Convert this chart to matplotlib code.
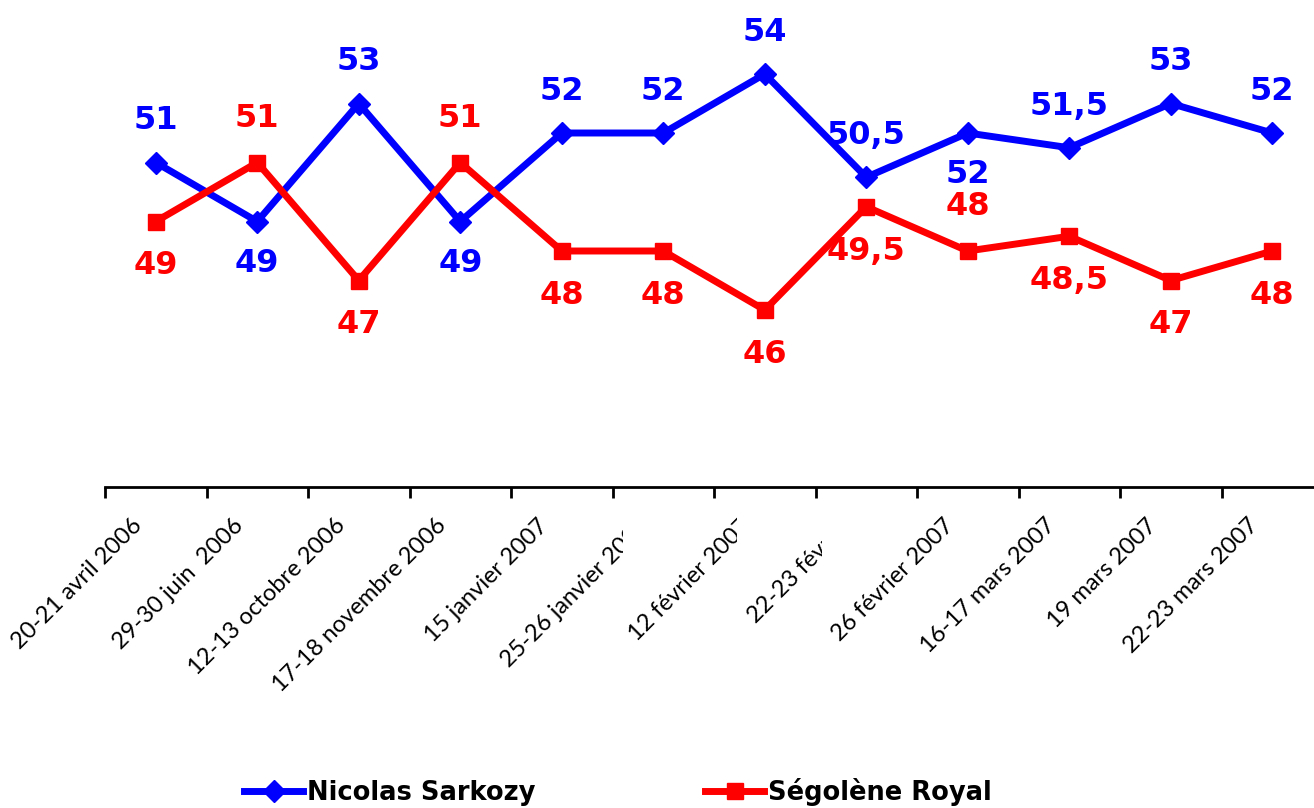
import numpy as np
import matplotlib
matplotlib.use('Agg')
import matplotlib.pyplot as plt
from matplotlib.transforms import Bbox

# ----- data
dates = ['20-21 avril 2006', '29-30 juin  2006', '12-13 octobre 2006',
         '17-18 novembre 2006', '15 janvier 2007', '25-26 janvier 2007',
         '12 février 2007', '22-23 février', '26 février 2007',
         '16-17 mars 2007', '19 mars 2007', '22-23 mars 2007']
sarkozy = [51, 49, 53, 49, 52, 52, 54, 50.5, 52, 51.5, 53, 52]
royal = [49, 51, 47, 51, 48, 48, 46, 49.5, 48, 48.5, 47, 48]
# label placement: +1 above the point, -1 below
sarkozy_side = [1, -1, 1, -1, 1, 1, 1, 1, -1, 1, 1, 1]
royal_side = [-1, 1, -1, 1, -1, -1, -1, -1, 1, -1, -1, -1]
# some date labels are cut off in the original (x limit, category units)
clip_at = {5: 4.606, 6: 5.73, 7: 6.56}

BLUE = '#0000FF'
RED = '#FF0000'

def fmt(v):
    return ('%g' % v).replace('.', ',')

fig = plt.figure(figsize=(13.14, 8.08), dpi=100)
ax = fig.add_axes([105/1314, (808-487)/808, (1323-105)/1314, 472/808])

x = np.arange(len(dates))
ax.plot(x, sarkozy, '-', color=BLUE, lw=5, marker='D', ms=11,
        label='Nicolas Sarkozy', solid_joinstyle='miter')
ax.plot(x, royal, '-', color=RED, lw=5, marker='s', ms=12,
        label='Ségolène Royal', solid_joinstyle='miter')

for i in x:
    ax.annotate(fmt(sarkozy[i]), (i, sarkozy[i]), xytext=(0, 30*sarkozy_side[i]),
                textcoords='offset points', ha='center', va='center',
                fontsize=23, fontweight='bold', color=BLUE)
    ax.annotate(fmt(royal[i]), (i, royal[i]), xytext=(0, 32*royal_side[i]),
                textcoords='offset points', ha='center', va='center',
                fontsize=23, fontweight='bold', color=RED)

ax.set_xlim(-0.5, len(dates) - 0.5)
ax.set_ylim(40, 56)

for s in ['top', 'right', 'left']:
    ax.spines[s].set_visible(False)
ax.spines['bottom'].set_linewidth(2)
ax.set_yticks([])
ax.set_xticks(np.arange(-0.5, len(dates), 1))
ax.set_xticklabels([])
ax.tick_params(axis='x', direction='out', length=8, width=2)

# date labels, rotated
for i, d in enumerate(dates):
    t = ax.annotate(d, (i, 0), xycoords=('data', 'axes fraction'),
                    xytext=(-7, -20), textcoords='offset points',
                    rotation=45, ha='right', va='top', fontsize=17,
                    family='Lato', annotation_clip=False)
    if i in clip_at:
        xc = ax.transData.transform((clip_at[i], 0))[0]
        t.set_clip_box(Bbox.from_extents(0, 0, xc, 808))
        t.set_clip_on(True)

leg = fig.legend(loc='center', bbox_to_anchor=(618/1314, 16/808), ncol=2,
                 frameon=False, handlelength=2.3, handletextpad=0.15,
                 columnspacing=6.6, prop={'size': 18.5, 'weight': 'bold'})

plt.savefig('out.png', dpi=100)
